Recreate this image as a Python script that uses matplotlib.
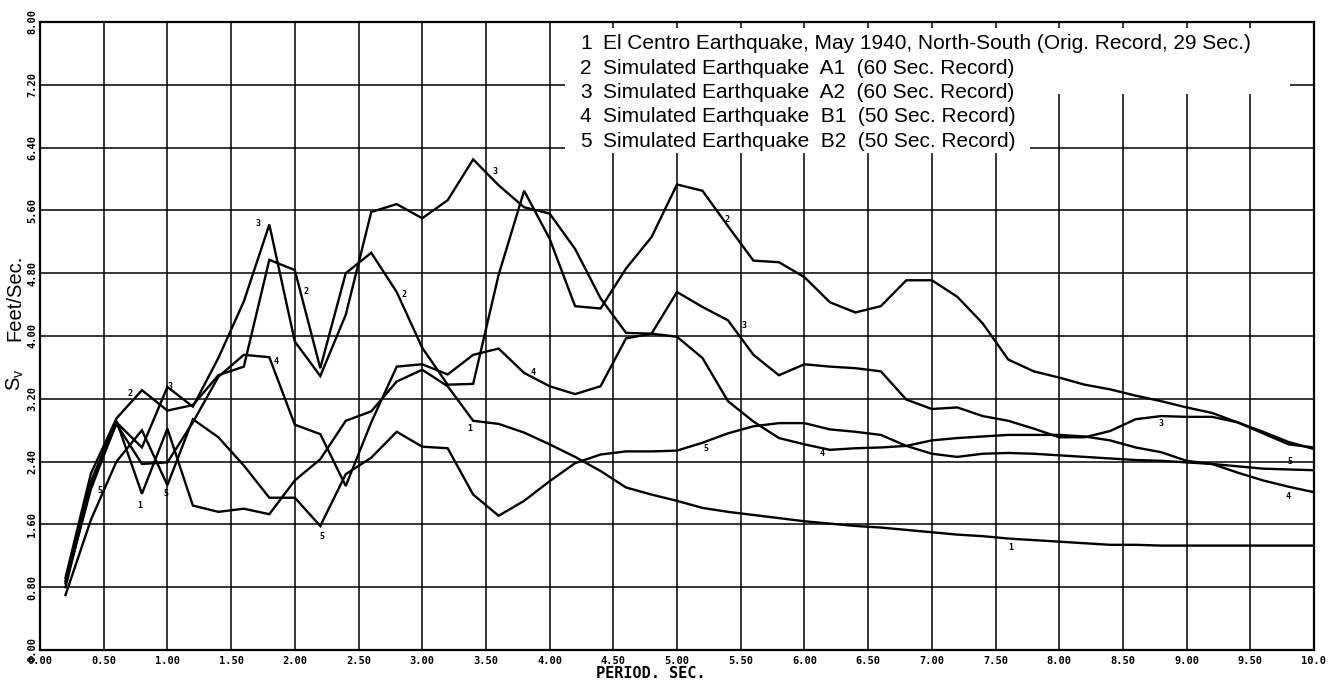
import numpy as np
import matplotlib
matplotlib.use("Agg")
import matplotlib.pyplot as plt
from matplotlib.patches import Polygon

# ---------------- data ----------------
period = [round(0.2 * i, 1) for i in range(1, 51)]

sv_el_centro = [0.88, 2.15, 2.92, 1.99, 2.82, 1.84, 1.76, 1.80, 1.73, 2.16,
                2.43, 2.92, 3.04, 3.42, 3.57, 3.36, 2.92, 2.88, 2.77, 2.62,
                2.46, 2.28, 2.07, 1.98, 1.90, 1.81, 1.76, 1.72, 1.68, 1.64,
                1.61, 1.58, 1.56, 1.53, 1.50, 1.47, 1.45, 1.42, 1.40, 1.38,
                1.36, 1.34, 1.34, 1.33, 1.33, 1.33, 1.33, 1.33, 1.33, 1.33]

sv_a1 = [0.92, 2.25, 2.95, 3.31, 3.05, 3.12, 3.50, 3.61, 4.97, 4.84,
         3.59, 4.80, 5.06, 4.56, 3.85, 3.38, 3.39, 4.78, 5.85, 5.24,
         4.38, 4.35, 4.86, 5.26, 5.93, 5.85, 5.40, 4.96, 4.94, 4.75,
         4.43, 4.30, 4.38, 4.71, 4.71, 4.50, 4.16, 3.70, 3.55, 3.47,
         3.38, 3.32, 3.24, 3.17, 3.09, 3.02, 2.90, 2.78, 2.65, 2.56]

sv_a2 = [0.85, 2.05, 2.90, 2.58, 3.35, 3.10, 3.72, 4.44, 5.42, 3.93,
         3.49, 4.27, 5.58, 5.68, 5.50, 5.73, 6.25, 5.92, 5.64, 5.56,
         5.11, 4.48, 4.04, 4.03, 4.56, 4.37, 4.20, 3.76, 3.50, 3.64,
         3.61, 3.59, 3.55, 3.19, 3.07, 3.09, 2.98, 2.92, 2.82, 2.71,
         2.71, 2.79, 2.94, 2.98, 2.97, 2.97, 2.90, 2.76, 2.62, 2.58]

sv_b1 = [0.80, 2.10, 2.88, 2.37, 2.39, 2.90, 3.48, 3.76, 3.73, 2.87,
         2.75, 2.09, 2.90, 3.61, 3.64, 3.51, 3.76, 3.84, 3.53, 3.36,
         3.26, 3.36, 3.97, 4.03, 3.99, 3.72, 3.17, 2.91, 2.70, 2.62,
         2.55, 2.57, 2.58, 2.60, 2.67, 2.70, 2.72, 2.74, 2.74, 2.74,
         2.72, 2.67, 2.58, 2.52, 2.41, 2.37, 2.26, 2.16, 2.08, 2.01]

sv_b2 = [0.70, 1.66, 2.40, 2.80, 2.10, 2.94, 2.71, 2.35, 1.94, 1.94,
         1.58, 2.24, 2.45, 2.78, 2.59, 2.57, 1.98, 1.71, 1.90, 2.15,
         2.38, 2.49, 2.53, 2.53, 2.54, 2.64, 2.76, 2.85, 2.89, 2.89,
         2.81, 2.78, 2.74, 2.60, 2.50, 2.46, 2.50, 2.51, 2.50, 2.48,
         2.46, 2.44, 2.42, 2.41, 2.39, 2.37, 2.34, 2.31, 2.30, 2.29]

legend_numbers = ["1", "2", "3", "4", "5"]
legend_texts = [
    "El Centro Earthquake, May 1940, North-South (Orig. Record, 29 Sec.)",
    "Simulated Earthquake  A1  (60 Sec. Record)",
    "Simulated Earthquake  A2  (60 Sec. Record)",
    "Simulated Earthquake  B1  (50 Sec. Record)",
    "Simulated Earthquake  B2  (50 Sec. Record)",
]

curve_label_text = ["1", "1", "1",
                    "2", "2", "2", "2",
                    "3", "3", "3", "3", "3",
                    "4", "4", "4", "4",
                    "5", "5", "5", "5", "5"]
curve_label_x = [0.785, 3.375, 7.62,
                 0.71, 2.09, 2.86, 5.39,
                 1.02, 1.71, 3.57, 5.53, 8.80,
                 1.85, 3.87, 6.14, 9.80,
                 0.47, 0.99, 2.21, 5.23, 9.81]
curve_label_y = [1.84, 2.82, 1.30,
                 3.27, 4.57, 4.53, 5.49,
                 3.36, 5.43, 6.09, 4.13, 2.88,
                 3.68, 3.54, 2.50, 1.95,
                 2.03, 1.99, 1.44, 2.57, 2.40]

x_ticks = [0.5 * i for i in range(21)]
x_tick_labels = ["%.2f" % v for v in x_ticks[:-1]] + ["10.0"]
y_ticks = [0.8 * i for i in range(11)]
y_tick_labels = ["%.2f" % v for v in y_ticks]

# ---------------- figure ----------------
W, H = 1342, 682
fig = plt.figure(figsize=(W / 100, H / 100), dpi=100)
ax = fig.add_axes([40 / W, 32 / H, 1274 / W, 628 / H])
ax.set_xlim(0, 10)
ax.set_ylim(0, 8)

for xv in x_ticks[1:-1]:
    ax.axvline(xv, color="black", lw=1.1, zorder=1)
for yv in y_ticks[1:-1]:
    ax.axhline(yv, color="black", lw=1.1, zorder=1)

# white area behind the legend text
blank = Polygon([(4.12, 7.92), (9.81, 7.92), (9.81, 7.08), (7.77, 7.08),
                 (7.77, 6.33), (4.12, 6.33)], closed=True,
                facecolor="white", edgecolor="none", zorder=1.5)
ax.add_patch(blank)

for series in [sv_el_centro, sv_a1, sv_a2, sv_b1, sv_b2]:
    ax.plot(period, series, color="black", lw=1.7, zorder=2,
            solid_joinstyle="miter")

for t, lx, ly in zip(curve_label_text, curve_label_x, curve_label_y):
    ax.text(lx, ly, t, fontsize=6, fontweight="bold", family="DejaVu Sans Mono",
            ha="center", va="center", zorder=3)

for s in ax.spines.values():
    s.set_linewidth(1.6)
    s.set_zorder(4)

tick_font = dict(family="DejaVu Sans Mono", weight="bold", size=7.5)
ax.set_xticks(x_ticks)
ax.set_xticklabels(x_tick_labels, **tick_font)
ax.set_yticks(y_ticks)
ax.set_yticklabels(y_tick_labels, rotation=90, va="center", **tick_font)
ax.tick_params(axis="both", length=0)
ax.tick_params(axis="x", pad=4)
ax.tick_params(axis="y", pad=2)

fig.text(651 / W, 1 - 673 / H, "PERIOD. SEC.", family="DejaVu Sans Mono",
         weight="bold", fontsize=11, ha="center", va="center")

fig.text(15 / W, 1 - 298 / H, "Feet/Sec.", family="Liberation Sans",
         fontsize=14.5, rotation=90, ha="center", va="center")
fig.text(15 / W, 1 - 380 / H, "S$_\\mathregular{v}$", family="Liberation Sans",
         fontsize=14.5, rotation=90, ha="center", va="center")

baselines = [49, 73.5, 98, 122.5, 147]
for num, txt, py in zip(legend_numbers, legend_texts, baselines):
    fig.text(580 / W, 1 - py / H, num, family="Liberation Sans", fontsize=15,
             ha="left", va="baseline")
    fig.text(603 / W, 1 - py / H, txt, family="Liberation Sans", fontsize=15,
             ha="left", va="baseline")

fig.savefig("out.png", dpi=100, facecolor="white")
